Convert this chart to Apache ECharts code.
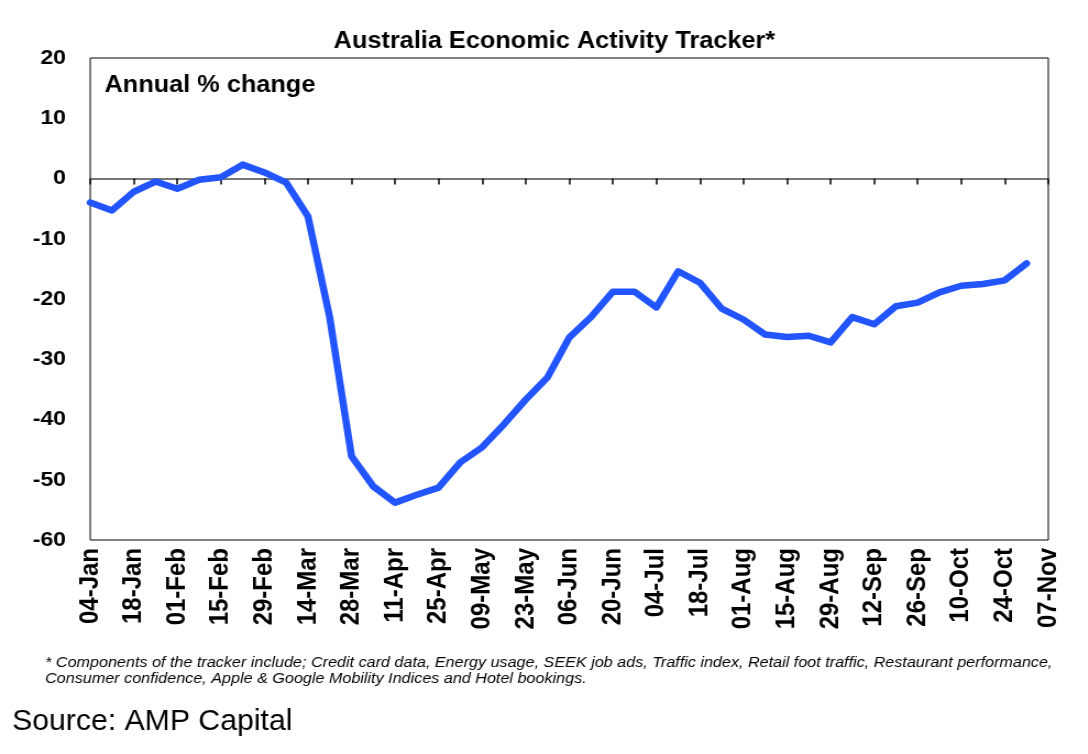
<!DOCTYPE html>
<html lang="en">
<head>
<meta charset="UTF-8">
<title>Australia Economic Activity Tracker</title>
<script src="https://cdn.jsdelivr.net/npm/echarts@6/dist/echarts.min.js"></script>
<style>
  html, body { margin: 0; padding: 0; background: #fff; overflow: hidden; }
  /* the original picture is a little stretched sideways, so draw narrower and widen it */
  #main { transform: scaleX(1.1); transform-origin: 0 0; }
</style>
</head>
<body>
<div id="main" style="width: 989px;height: 754px"></div>
<script>
  // weekly dates, labels on every second one
  const weeks = [
    '04-Jan', '11-Jan', '18-Jan', '25-Jan', '01-Feb', '08-Feb', '15-Feb', '22-Feb', '29-Feb',
    '07-Mar', '14-Mar', '21-Mar', '28-Mar', '04-Apr', '11-Apr', '18-Apr', '25-Apr',
    '02-May', '09-May', '16-May', '23-May', '30-May', '06-Jun', '13-Jun', '20-Jun', '27-Jun',
    '04-Jul', '11-Jul', '18-Jul', '25-Jul', '01-Aug', '08-Aug', '15-Aug', '22-Aug', '29-Aug',
    '05-Sep', '12-Sep', '19-Sep', '26-Sep', '03-Oct', '10-Oct', '17-Oct', '24-Oct', '31-Oct',
    '07-Nov'
  ];
  const activity = [
    -4.0, -5.3, -2.2, -0.5, -1.7, -0.2, 0.2, 2.3, 1.0, -0.7,
    -6.3, -23.1, -46.1, -51.1, -53.8, -52.5, -51.3, -47.1, -44.6, -40.8,
    -36.7, -33.0, -26.4, -23.0, -18.8, -18.8, -21.4, -15.4, -17.3, -21.6,
    -23.4, -25.9, -26.3, -26.1, -27.2, -23.0, -24.2, -21.2, -20.6, -18.9,
    -17.8, -17.5, -16.9, -14.1
  ];
  const yRange = [-60, 20];

  const font = 'Liberation Sans, Arial, sans-serif';
  const chart = echarts.init(document.getElementById('main'));
  chart.setOption({
    animation: false,
    title: {
      text: 'Australia Economic Activity Tracker*',
      left: 499, top: 25, textAlign: 'center',
      textStyle: { fontFamily: font, fontSize: 23, fontWeight: 'bold', color: '#000' }
    },
    grid: {
      left: 82, right: 36, top: 58, bottom: 214,
      show: true, borderColor: '#000', borderWidth: 1
    },
    xAxis: [{
      type: 'category',
      data: weeks,
      boundaryGap: false,
      position: 'bottom',
      axisLine: { show: false, onZero: false },
      axisTick: { show: false },
      axisLabel: {
        interval: 1, rotate: 90, margin: 8,
        fontFamily: font, fontSize: 24, fontWeight: 'bold', color: '#000'
      }
    }, {
      // zero line with its ticks
      type: 'category',
      data: weeks,
      boundaryGap: false,
      position: 'top',
      axisLine: { show: true, onZero: true, lineStyle: { color: '#777', width: 2 } },
      axisTick: { show: true, inside: true, interval: 1, length: 6, lineStyle: { color: '#000', width: 1.5 } },
      axisLabel: { show: false }
    }],
    yAxis: {
      type: 'value',
      min: yRange[0], max: yRange[1], interval: 10,
      axisLine: { show: false },
      axisTick: { show: false },
      splitLine: { show: false },
      axisLabel: { margin: 22, fontFamily: font, fontSize: 21, fontWeight: 'bold', color: '#000' }
    },
    graphic: [{
      type: 'text', left: 95, top: 74,
      style: { text: 'Annual % change', font: 'bold 23px ' + font, fill: '#000' }
    }, {
      type: 'text', left: 41, top: 655,
      style: {
        text: '* Components of the tracker include; Credit card data, Energy usage, SEEK job ads, Traffic index, Retail foot traffic, Restaurant performance,\nConsumer confidence, Apple & Google Mobility Indices and Hotel bookings.',
        font: 'italic 14.7px ' + font,
        lineHeight: 16, fill: '#000'
      }
    }, {
      type: 'text', left: 11, top: 707, scaleX: 0.915,
      style: { text: 'Source: AMP Capital', font: '30px ' + font, fill: '#000' }
    }],
    series: [{
      type: 'line',
      xAxisIndex: 0,
      data: activity,
      showSymbol: false,
      lineStyle: { color: '#2255ff', width: 6.5, cap: 'round', join: 'round' },
      itemStyle: { color: '#2255ff' }
    }]
  });
</script>
</body>
</html>
